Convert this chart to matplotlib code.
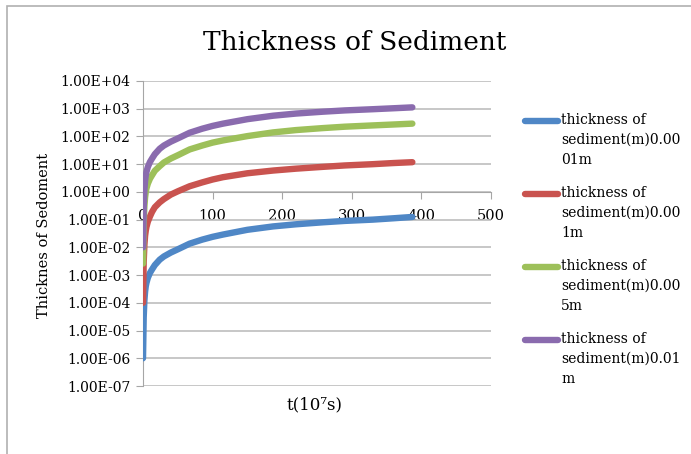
import matplotlib
matplotlib.use("Agg")
import matplotlib.pyplot as plt
from matplotlib.lines import Line2D
from matplotlib.patches import Rectangle

# data
t = [0, 1, 2, 3, 4, 5, 7, 10, 13, 17, 24, 30, 40, 50, 67, 85, 100, 115, 150, 187, 220, 258, 290, 330, 360, 387]
d_00001 = [1e-6, 3e-5, 1.2e-4, 2.5e-4, 4e-4, 5.3e-4, 8e-4, 1.2e-3, 1.6e-3, 2.3e-3, 3.6e-3, 4.7e-3, 6.5e-3, 8.5e-3,
           0.0136, 0.019, 0.024, 0.029, 0.043, 0.057, 0.068, 0.08, 0.09, 0.10, 0.112, 0.125]
d_0001 = [1e-4, 3e-3, 1.2e-2, 2.6e-2, 4e-2, 5.5e-2, 8.5e-2, 0.13, 0.19, 0.28, 0.42, 0.55, 0.8, 1.05,
          1.6, 2.2, 2.8, 3.4, 4.7, 5.9, 6.9, 8.0, 9.0, 10.0, 11.0, 11.8]
d_0005 = [2.6e-3, 0.07, 0.3, 0.63, 1.0, 1.35, 2.0, 3.0, 4.0, 5.8, 8.5, 11.5, 16, 21,
          34, 47, 60, 72, 103, 140, 170, 200, 225, 250, 270, 290]
d_001 = [1e-2, 0.3, 1.2, 2.5, 4.0, 5.3, 8.0, 12, 16, 23, 36, 47, 65, 85,
         136, 190, 240, 290, 420, 560, 670, 780, 870, 960, 1040, 1120]

series = [d_00001, d_0001, d_0005, d_001]
labels = ["thickness of\nsediment(m)0.00\n01m",
          "thickness of\nsediment(m)0.00\n1m",
          "thickness of\nsediment(m)0.00\n5m",
          "thickness of\nsediment(m)0.01\nm"]
colors = ["#4F87C6", "#C9534F", "#9DC05A", "#8A6BAE"]
yticks = [1e-7, 1e-6, 1e-5, 1e-4, 1e-3, 1e-2, 1e-1, 1e0, 1e1, 1e2, 1e3, 1e4]
xticks = [0, 100, 200, 300, 400, 500]

plt.rcParams['font.family'] = ['DejaVu Serif']
W, H = 691, 454
fig = plt.figure(figsize=(W/100, H/100), dpi=100)

# outer chart border
fig.add_artist(Rectangle((7/W, -0.1), 1.2, 1 - 6/H + 0.1, transform=fig.transFigure,
                         fill=False, edgecolor="#b0b0b0", linewidth=1.2))

ax = fig.add_axes([143/W, 1 - 386/H, (491-143)/W, (386-81)/H])
for s, c in zip(series, colors):
    ax.plot(t, s, color=c, linewidth=4.6, solid_capstyle='round', solid_joinstyle='round', zorder=3)

ax.set_yscale('log')
ax.set_xlim(0, 500)
ax.set_ylim(1e-7, 1e4)
ax.set_yticks(yticks)
ax.set_yticklabels([f"{v:.2E}" for v in yticks])
ax.minorticks_off()
ax.set_xticks(xticks)
ax.set_xticklabels([str(v) for v in xticks])

gray = "#a6a6a6"
ax.grid(axis='y', color="#bdbdbd", linewidth=1.2)
ax.set_axisbelow(True)
for side in ['top', 'right']:
    ax.spines[side].set_visible(False)
ax.spines['left'].set_color(gray)
ax.spines['bottom'].set_color(gray)
ax.spines['bottom'].set_position(('data', 1))
ax.tick_params(axis='y', length=5, color=gray, labelsize=10, pad=4)
ax.tick_params(axis='x', length=5, color=gray, labelsize=10.5, pad=7)

fig.text(355/W, 1 - 42/H, "Thickness of Sediment", ha='center', va='center', fontsize=19)
fig.text(44/W, 1 - 235/H, "Thicknes of Sedoment", rotation=90, ha='center', va='center', fontsize=10.5)
fig.text(315/W, 1 - 405/H, "t(10⁷s)", ha='center', va='center', fontsize=12)

# legend
for i, (lab, c) in enumerate(zip(labels, colors)):
    yy = 1 - (121 + i*73)/H
    fig.add_artist(Line2D([525/W, 558/W], [yy, yy], color=c, linewidth=4.6,
                          solid_capstyle='round', transform=fig.transFigure))
    fig.text(561/W, yy + 8/H, lab, ha='left', va='top', fontsize=10, linespacing=1.55)

fig.savefig("out.png", dpi=100)
